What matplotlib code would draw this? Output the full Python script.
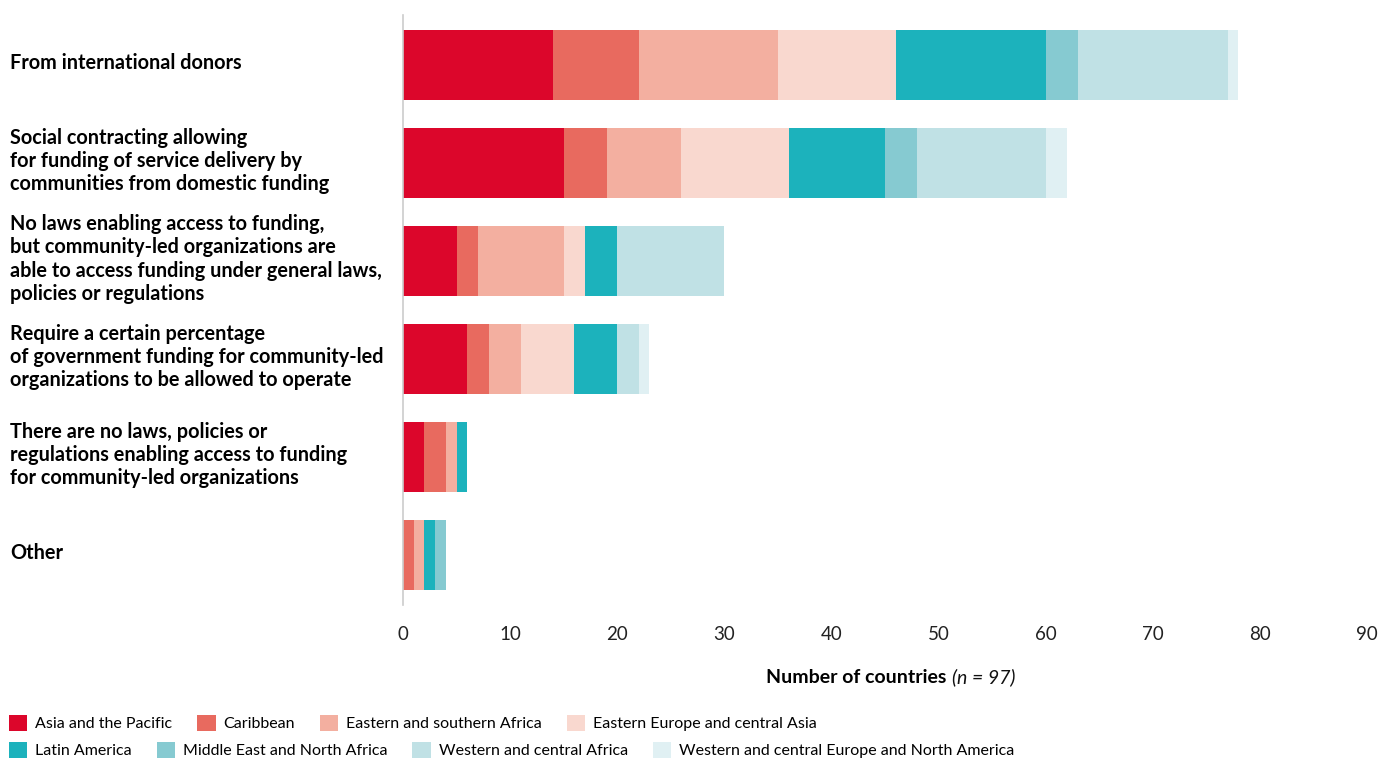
import numpy as np
import matplotlib
matplotlib.use("Agg")
import matplotlib.pyplot as plt
from matplotlib.patches import Patch

plt.rcParams["font.family"] = ["Lato", "DejaVu Sans"]

categories = [
    "From international donors",
    "Social contracting allowing\nfor funding of service delivery by\ncommunities from domestic funding",
    "No laws enabling access to funding,\nbut community-led organizations are\nable to access funding under general laws,\npolicies or regulations",
    "Require a certain percentage\nof government funding for community-led\norganizations to be allowed to operate",
    "There are no laws, policies or\nregulations enabling access to funding\nfor community-led organizations",
    "Other",
]

regions = [
    "Asia and the Pacific",
    "Caribbean",
    "Eastern and southern Africa",
    "Eastern Europe and central Asia",
    "Latin America",
    "Middle East and North Africa",
    "Western and central Africa",
    "Western and central Europe and North America",
]

# counts per category, one list per region
asia_pacific = [14, 15, 5, 6, 2, 0]
caribbean = [8, 4, 2, 2, 2, 1]
east_south_africa = [13, 7, 8, 3, 1, 1]
east_europe_central_asia = [11, 10, 2, 5, 0, 0]
latin_america = [14, 9, 3, 4, 1, 1]
mena = [3, 3, 0, 0, 0, 1]
west_central_africa = [14, 12, 10, 2, 0, 0]
west_central_europe_na = [1, 2, 0, 1, 0, 0]

series = [asia_pacific, caribbean, east_south_africa, east_europe_central_asia,
          latin_america, mena, west_central_africa, west_central_europe_na]

colors = ["#dc062b", "#e86a5f", "#f3afa0", "#f9d8cf",
          "#1cb2bc", "#86cad1", "#c0e1e5", "#e0f0f3"]

xticks = list(range(0, 100, 10))

fig = plt.figure(figsize=(13.81, 7.58), dpi=100)
ax = fig.add_axes([403 / 1381, 1 - 605 / 758, 964 / 1381, 590 / 758])

y = np.arange(len(categories))
left = np.zeros(len(categories))
for vals, col, name in zip(series, colors, regions):
    ax.barh(y, vals, left=left, height=0.72, color=col, label=name, linewidth=0)
    left += np.array(vals)

ax.set_xlim(0, 90)
ax.set_ylim(len(categories) - 0.49, -0.51)
ax.set_xticks(xticks)
ax.set_xticklabels([str(t) for t in xticks], fontsize=13.5, color="#222222")
ax.tick_params(axis="x", length=0, pad=15)
ax.set_yticks([])
for s in ["top", "right", "bottom"]:
    ax.spines[s].set_visible(False)
ax.spines["left"].set_color("#cccccc")
ax.spines["left"].set_linewidth(1.2)

# category labels, left aligned at figure edge
trans = matplotlib.transforms.blended_transform_factory(fig.transFigure, ax.transData)
for yi, lab in zip(y, categories):
    ax.text(10 / 1381, yi - 0.02, lab, transform=trans, ha="left", va="center",
            fontsize=14.3, fontweight="bold", color="black", linespacing=1.2)

# x label: bold part + italic part
ax.text(0.564, -0.123, "Number of countries", transform=ax.transAxes,
        ha="right", va="center", fontsize=14, fontweight="bold", color="black")
ax.text(0.5695, -0.123, "(n = 97)", transform=ax.transAxes,
        ha="left", va="center", fontsize=14, style="italic", color="#111111")

# legend in two flowing rows
handles = [Patch(facecolor=c, edgecolor="none") for c in colors]
leg_kw = dict(frameon=False, ncol=4, fontsize=11.5, handlelength=1.15,
              handleheight=1.15, handletextpad=0.5, columnspacing=1.55,
              borderaxespad=0, borderpad=0)
fig.legend(handles[:4], regions[:4], loc="center left",
           bbox_to_anchor=(9 / 1381, 1 - 723 / 758), **leg_kw)
fig.legend(handles[4:], regions[4:], loc="center left",
           bbox_to_anchor=(9 / 1381, 1 - 750 / 758), **leg_kw)

fig.savefig("out.png", dpi=100)
